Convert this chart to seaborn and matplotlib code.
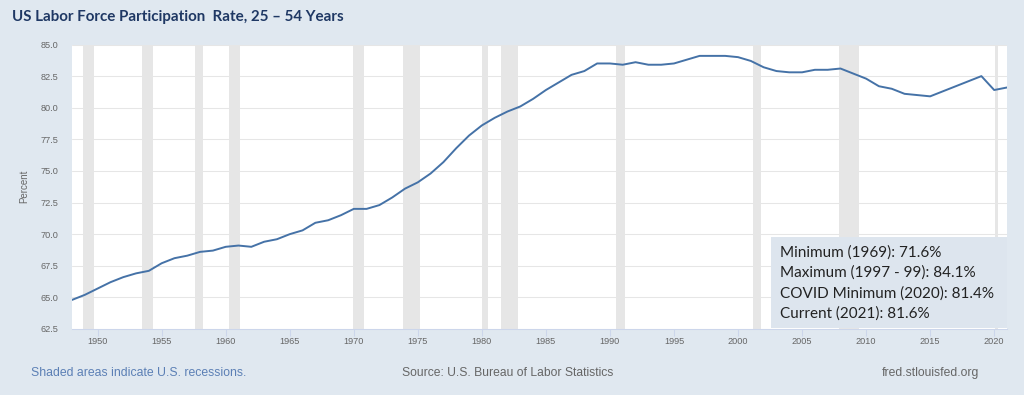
import matplotlib
matplotlib.use("Agg")
import matplotlib.pyplot as plt
import numpy as np
import pandas as pd
import seaborn as sns
from matplotlib.patches import Rectangle


# annual averages, civilian labor force participation rate 25-54 yrs
years = list(range(1948, 2022))
rate = [
    64.8, 65.2, 65.7, 66.2, 66.6, 66.9, 67.1, 67.7, 68.1, 68.3,  # 1948-1957
    68.6, 68.7, 69.0, 69.1, 69.0, 69.4, 69.6, 70.0, 70.3, 70.9,  # 1958-1967
    71.1, 71.5, 72.0, 72.0, 72.3, 72.9, 73.6, 74.1, 74.8, 75.7,  # 1968-1977
    76.8, 77.8, 78.6, 79.2, 79.7, 80.1, 80.7, 81.4, 82.0, 82.6,  # 1978-1987
    82.9, 83.5, 83.5, 83.4, 83.6, 83.4, 83.4, 83.5, 83.8, 84.1,  # 1988-1997
    84.1, 84.1, 84.0, 83.7, 83.2, 82.9, 82.8, 82.8, 83.0, 83.0,  # 1998-2007
    83.1, 82.7, 82.3, 81.7, 81.5, 81.1, 81.0, 80.9, 81.3, 81.7,  # 2008-2017
    82.1, 82.5, 81.4, 81.6,                                      # 2018-2021
]

# NBER recessions (decimal years)
recession_start = [1948.83, 1953.50, 1957.58, 1960.25, 1969.92, 1973.83,
                   1980.00, 1981.50, 1990.50, 2001.17, 2007.92, 2020.08]
recession_end = [1949.75, 1954.33, 1958.25, 1961.08, 1970.83, 1975.17,
                 1980.50, 1982.83, 1991.17, 2001.83, 2009.42, 2020.33]

y_ticks = [62.5, 65.0, 67.5, 70.0, 72.5, 75.0, 77.5, 80.0, 82.5, 85.0]
x_ticks = list(range(1950, 2021, 5))

notes = [
    "Minimum (1969): 71.6%",
    "Maximum (1997 - 99): 84.1%",
    "COVID Minimum (2020): 81.4%",
    "Current (2021): 81.6%",
]

BG = "#e0e8f0"
LINE = "#4572a7"
GREY = "#666666"

sns.set_theme(style="white")
plt.rcParams["font.family"] = ["Liberation Sans", "DejaVu Sans"]

W, H = 1024, 395
fig = plt.figure(figsize=(W / 100, H / 100), dpi=100, facecolor=BG)


def fx(px):
    return px / W


def fy(py):
    return 1 - py / H


ax = fig.add_axes([fx(72), fy(329), fx(1007) - fx(72), fy(44.5) - fy(329)])
ax.set_facecolor("white")

for s, e in zip(recession_start, recession_end):
    ax.axvspan(s, e, color="#e6e6e6", lw=0, zorder=0)

df = pd.DataFrame({"year": years, "rate": rate})
sns.lineplot(data=df, x="year", y="rate", ax=ax, color=LINE, linewidth=1.4, zorder=3)

ax.set_xlim(1948, 2021)
ax.set_ylim(62.5, 85)
ax.set_yticks(y_ticks)
ax.set_yticklabels([f"{v:.1f}" for v in y_ticks])
ax.set_xticks(x_ticks)
ax.set_xticklabels([str(v) for v in x_ticks])
ax.grid(axis="y", color="#e6e6e6", linewidth=0.75, zorder=1)
ax.grid(axis="x", visible=False)

for side in ["top", "right", "left"]:
    ax.spines[side].set_visible(False)
ax.spines["bottom"].set_color("#ccd6eb")
ax.spines["bottom"].set_linewidth(0.75)

ax.tick_params(axis="y", length=0, pad=10, labelsize=6.6, labelcolor=GREY)
ax.tick_params(axis="x", length=5, width=0.75, color="#ccd6eb", pad=1,
               labelsize=6.6, labelcolor=GREY, bottom=True)

ax.set_xlabel("")
ax.set_ylabel("Percent", fontsize=7, color=GREY, labelpad=8)

# title and footer
fig.text(fx(12), fy(17), "US Labor Force Participation  Rate, 25 \u2013 54 Years",
         family=["Lato", "DejaVu Sans"], fontweight="bold", fontsize=10.9,
         color="#1f3864", va="center", ha="left")
fig.text(fx(31), fy(373), "Shaded areas indicate U.S. recessions.",
         fontsize=8.8, color="#5b7fb5", va="center", ha="left")
fig.text(fx(508), fy(373), "Source: U.S. Bureau of Labor Statistics",
         fontsize=8.7, color=GREY, va="center", ha="center")
fig.text(fx(979), fy(373), "fred.stlouisfed.org",
         fontsize=8.7, color=GREY, va="center", ha="right")

# annotation box over the lower right of the plot
fig.patches.append(Rectangle((fx(771), fy(328)), fx(1007) - fx(771), fy(237) - fy(328),
                             transform=fig.transFigure, facecolor="#dde5ee",
                             edgecolor="none", zorder=5))
for i, line in enumerate(notes):
    fig.text(fx(780), fy(252.5 + i * 20.5), line, family=["Lato", "DejaVu Sans"],
             fontsize=11.0, color="#222222", va="center", ha="left", zorder=6)

fig.savefig("out.png", dpi=100, facecolor=BG)
